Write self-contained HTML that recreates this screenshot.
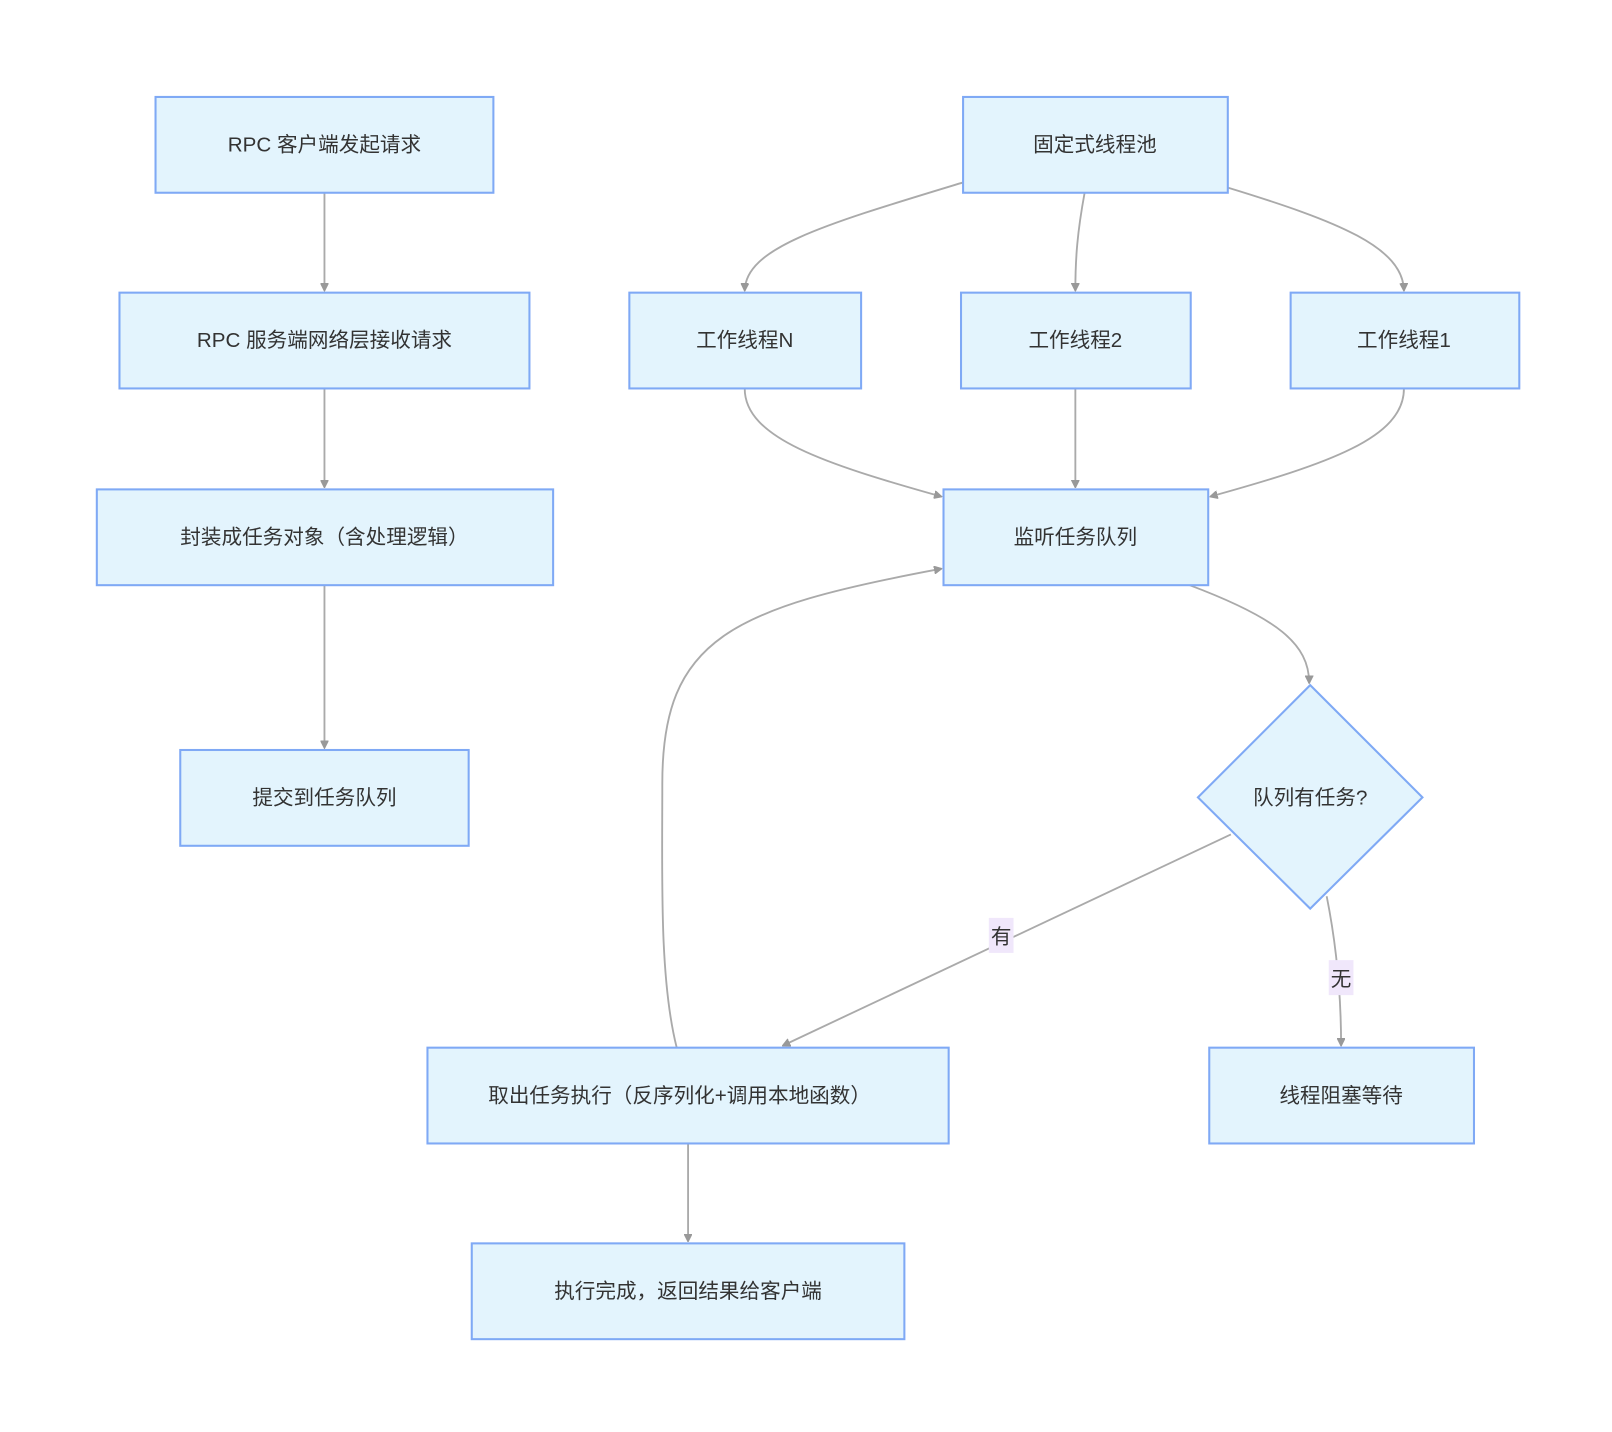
<!DOCTYPE html>
<html><head><meta charset="utf-8"><style>
html,body{margin:0;padding:0;background:#fff;}
svg{display:block}
text{font-family:"Liberation Sans","Noto Sans CJK SC",sans-serif;font-size:20px;fill:#333;}
.n{fill:#e3f4fd;stroke:#7fa9f5;stroke-width:2;}
.e{fill:none;stroke:#aaa;stroke-width:1.8;}
</style></head><body>
<svg width="1612" height="1432" viewBox="0 0 1565 1390" xmlns="http://www.w3.org/2000/svg">
<defs>
<marker id="a" viewBox="0 0 10 10" refX="9" refY="5" markerWidth="8" markerHeight="8" orient="auto-start-reverse" markerUnits="userSpaceOnUse">
<path d="M0,0 L10,5 L0,10 z" fill="#999" stroke="#999"/></marker>
<clipPath id="c"><rect x="415" y="1017" width="448" height="93"/></clipPath>
</defs>
<g class="e">
<path d="M315,187 L315,282" marker-end="url(#a)" transform=""/>
<path d="M315,377 L315,473" marker-end="url(#a)"/>
<path d="M315,568 L315,726" marker-end="url(#a)"/>
<path d="M935,177 C800,218 724,240 723,282" marker-end="url(#a)"/>
<path d="M1053,187 C1046,225 1044,250 1044,282" marker-end="url(#a)"/>
<path d="M1192,182 C1300,215 1362,240 1363,282" marker-end="url(#a)"/>
<path d="M723,377 C723,425 800,450 914,482" marker-end="url(#a)"/>
<path d="M1044,377 L1044,473" marker-end="url(#a)"/>
<path d="M1363,377 C1363,425 1290,450 1175,482" marker-end="url(#a)"/>
<path d="M1155,568 C1240,600 1271,625 1271,663" marker-end="url(#a)"/>
<path d="M1195,810 L760,1015" marker-end="url(#a)"/>
<path d="M1288,870 C1296,910 1302,960 1302,1015" marker-end="url(#a)"/>
<path d="M668,1110 L668,1205" marker-end="url(#a)"/>
<path d="M657,1017 C640,950 643,850 643,760 C643,620 710,590 914,552" marker-end="url(#a)"/>
</g>
<rect x="960" y="891" width="24" height="34" fill="#f0e7fb"/>
<text x="972" y="916" text-anchor="middle">有</text>
<rect x="1290" y="932" width="24" height="34" fill="#f0e7fb"/>
<text x="1302" y="957" text-anchor="middle">无</text>
<rect class="n" x="151" y="94" width="328" height="93"/><text x="315" y="147" text-anchor="middle">RPC 客户端发起请求</text>
<rect class="n" x="116" y="284" width="398" height="93"/><text x="315" y="337" text-anchor="middle">RPC 服务端网络层接收请求</text>
<rect class="n" x="94" y="475" width="443" height="93"/><text x="315" y="528" text-anchor="middle">封装成任务对象（含处理逻辑）</text>
<rect class="n" x="175" y="728" width="280" height="93"/><text x="315" y="781" text-anchor="middle">提交到任务队列</text>
<rect class="n" x="935" y="94" width="257" height="93"/><text x="1063" y="147" text-anchor="middle">固定式线程池</text>
<rect class="n" x="611" y="284" width="225" height="93"/><text x="723" y="337" text-anchor="middle">工作线程N</text>
<rect class="n" x="933" y="284" width="223" height="93"/><text x="1044" y="337" text-anchor="middle">工作线程2</text>
<rect class="n" x="1253" y="284" width="222" height="93"/><text x="1363" y="337" text-anchor="middle">工作线程1</text>
<rect class="n" x="916" y="475" width="257" height="93"/><text x="1044" y="528" text-anchor="middle">监听任务队列</text>
<polygon class="n" points="1272,665 1381,774 1272,882 1163,774"/><text x="1272" y="781" text-anchor="middle">队列有任务?</text>
<rect class="n" x="415" y="1017" width="506" height="93"/><text x="474" y="1070" clip-path="url(#c)">取出任务执行（反序列化+调用本地函数）</text>
<rect class="n" x="1174" y="1017" width="257" height="93"/><text x="1302" y="1070" text-anchor="middle">线程阻塞等待</text>
<rect class="n" x="458" y="1207" width="420" height="93"/><text x="668" y="1260" text-anchor="middle">执行完成，返回结果给客户端</text>
</svg>
</body></html>
